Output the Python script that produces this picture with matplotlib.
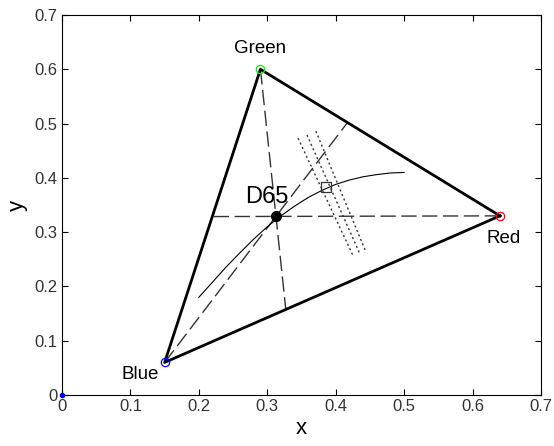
import matplotlib
matplotlib.use("Agg")
import matplotlib.pyplot as plt
import numpy as np

plt.rcParams["font.family"] = ["Liberation Sans", "DejaVu Sans"]

# primaries and white point (CIE xy)
primary_names = ["Red", "Green", "Blue"]
primary_x = [0.64, 0.29, 0.15]
primary_y = [0.33, 0.60, 0.06]
primary_colors = ["red", "lime", "blue"]
white_x, white_y = 0.3127, 0.329

# locus-like curve
curve_x = [0.20, 0.22, 0.24, 0.26, 0.28, 0.30, 0.32, 0.34, 0.36, 0.38,
           0.40, 0.42, 0.44, 0.46, 0.48, 0.50]
curve_y = [0.180, 0.208, 0.236, 0.262, 0.287, 0.310, 0.330, 0.348, 0.364, 0.377,
           0.388, 0.396, 0.402, 0.406, 0.409, 0.410]
marker_x, marker_y = 0.386, 0.384

# three dotted iso lines (start, end)
iso_x0 = [0.345, 0.358, 0.371]
iso_y0 = [0.473, 0.479, 0.486]
iso_x1 = [0.426, 0.435, 0.443]
iso_y1 = [0.255, 0.261, 0.267]


def intersect(p, q, a, b):
    # line p->q with segment a->b
    p, q, a, b = map(np.asarray, (p, q, a, b))
    d1 = q - p
    d2 = b - a
    m = np.array([d1, -d2]).T
    t, _ = np.linalg.solve(m, a - p)
    return p + t * d1


fig = plt.figure(figsize=(5.54, 4.46), dpi=100)
ax = fig.add_axes([0.1119, 0.1143, 0.8646, 0.8521])

tri_x = primary_x + primary_x[:1]
tri_y = primary_y + primary_y[:1]
ax.plot(tri_x, tri_y, color="black", lw=2.0, zorder=3)

wp = (white_x, white_y)
for i in range(3):
    v = (primary_x[i], primary_y[i])
    a = (primary_x[(i + 1) % 3], primary_y[(i + 1) % 3])
    b = (primary_x[(i + 2) % 3], primary_y[(i + 2) % 3])
    end = intersect(v, wp, a, b)
    ax.plot([v[0], end[0]], [v[1], end[1]], color="#333333", lw=1.0,
            dashes=(11, 4), zorder=2)

ax.plot(curve_x, curve_y, color="black", lw=0.8, zorder=2)

for x0, y0, x1, y1 in zip(iso_x0, iso_y0, iso_x1, iso_y1):
    ax.plot([x0, x1], [y0, y1], color="#333333", lw=1.0, dashes=(1.5, 2.0), zorder=2)

ax.plot(marker_x, marker_y, marker="s", ms=7, mfc="none", mec="#333333", mew=0.9, zorder=4)
ax.plot(white_x, white_y, marker="o", ms=7, color="black", zorder=5)

for x, y, c in zip(primary_x, primary_y, primary_colors):
    ax.plot(x, y, marker="o", ms=6, mfc="none", mec=c, mew=0.9, zorder=5)
ax.plot(0, 0, marker="o", ms=3, color="blue", clip_on=False, zorder=6)

ax.text(0.29, 0.638, "Green", fontsize=13.5, ha="center", va="center")
ax.text(0.645, 0.289, "Red", fontsize=13.5, ha="center", va="center")
ax.text(0.115, 0.037, "Blue", fontsize=13.5, ha="center", va="center")
ax.text(0.300, 0.365, "D65", fontsize=17, ha="center", va="center")

ax.set_xlim(0, 0.7)
ax.set_ylim(0, 0.7)
ticks = np.arange(0, 0.71, 0.1)
ax.set_xticks(ticks)
ax.set_yticks(ticks)
ax.set_xticklabels(["0", "0.1", "0.2", "0.3", "0.4", "0.5", "0.6", "0.7"])
ax.set_yticklabels(["0", "0.1", "0.2", "0.3", "0.4", "0.5", "0.6", "0.7"])
ax.tick_params(direction="in", length=4, top=True, right=True,
               labelsize=12, labelcolor="#333333", width=0.8, pad=3)
for s in ax.spines.values():
    s.set_linewidth(0.8)
ax.set_xlabel("x", fontsize=16, labelpad=3)
ax.set_ylabel("y", fontsize=16, labelpad=5)

fig.savefig("out.png", dpi=100)
